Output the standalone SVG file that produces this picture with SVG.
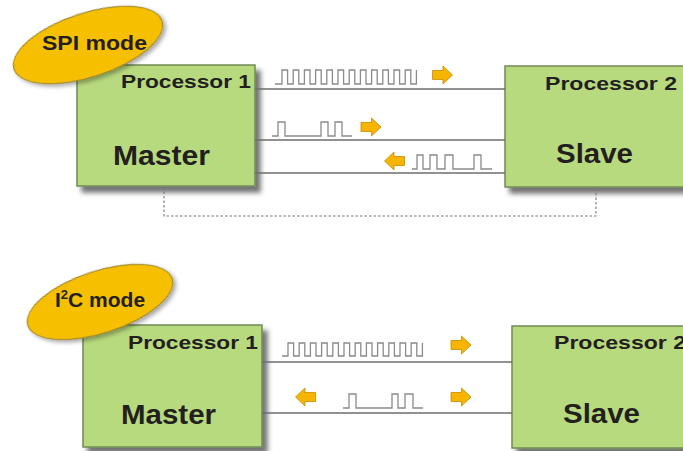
<svg xmlns="http://www.w3.org/2000/svg" width="683" height="451" viewBox="0 0 683 451">
<defs>
<filter id="sh" x="-10%" y="-10%" width="130%" height="135%">
<feDropShadow dx="5" dy="6" stdDeviation="2.5" flood-color="#000" flood-opacity="0.55"/>
</filter>
<filter id="sh2" x="-10%" y="-20%" width="130%" height="150%">
<feDropShadow dx="2" dy="3" stdDeviation="2" flood-color="#000" flood-opacity="0.35"/>
</filter>
<path id="arr" d="M-10,-4.5 H0.5 V-9 L10,0 L0.5,9 V4.5 H-10 Z"/>
</defs>
<style>
.box{fill:#b8da7e;stroke:#6f8a55;stroke-width:1.5;filter:url(#sh)}
.oval{fill:#f6bf00;stroke:#8c7a2a;stroke-width:1;filter:url(#sh2)}
.t{font-family:"Liberation Sans",Arial,Helvetica,sans-serif;font-weight:bold;fill:#231f20}
.p{font-size:19px}
.r{font-size:28px}
.m{font-size:21px}
.line{stroke:#6e6e6e;stroke-width:1.3;fill:none}
.wave{stroke:#8a8a8a;stroke-width:1.3;fill:none}
.dash{stroke:#777;stroke-width:1.1;fill:none;stroke-dasharray:2.5 2}
.a{fill:#f7b400;stroke:#c48c00;stroke-width:0.8}
</style>
<rect width="683" height="451" fill="#fff"/>

<!-- SPI section -->
<g id="spi-master">
<rect class="box" x="77" y="65" width="178" height="121"/>
<text class="t p" x="121" y="88" textLength="130" lengthAdjust="spacingAndGlyphs">Processor 1</text>
<text class="t r" x="113" y="165" textLength="97" lengthAdjust="spacingAndGlyphs">Master</text>
</g>
<g id="spi-slave">
<rect class="box" x="505" y="66" width="185" height="121"/>
<text class="t p" x="545" y="90" textLength="132" lengthAdjust="spacingAndGlyphs">Processor 2</text>
<text class="t r" x="556" y="163" textLength="77" lengthAdjust="spacingAndGlyphs">Slave</text>
</g>
<g id="spi-label">
<ellipse class="oval" cx="88" cy="45" rx="78" ry="32" transform="rotate(-18 88 45)"/>
<text class="t m" x="42" y="50" textLength="105" lengthAdjust="spacingAndGlyphs">SPI mode</text>
</g>

<!-- I2C section -->
<g id="i2c-master">
<rect class="box" x="83" y="325" width="179" height="122"/>
<text class="t p" x="128" y="349" textLength="130" lengthAdjust="spacingAndGlyphs">Processor 1</text>
<text class="t r" x="121" y="424" textLength="95" lengthAdjust="spacingAndGlyphs">Master</text>
</g>
<g id="i2c-slave">
<rect class="box" x="512" y="326" width="185" height="122"/>
<text class="t p" x="554" y="349" textLength="132" lengthAdjust="spacingAndGlyphs">Processor 2</text>
<text class="t r" x="563" y="423" textLength="77" lengthAdjust="spacingAndGlyphs">Slave</text>
</g>
<g id="i2c-label">
<ellipse class="oval" cx="100" cy="302" rx="76" ry="31" transform="rotate(-18 100 302)"/>
<text class="t m" x="55" y="307">I<tspan font-size="13" dy="-8">2</tspan><tspan dy="8">C mode</tspan></text>
</g>

<g id="connectors">
<path class="line" d="M255,89 H505 M255,140 H505 M255,173 H505"/>
<path class="dash" d="M164,187 V216 H596 V188"/>
<path class="line" d="M262,362 H512 M262,413 H512"/>

<path class="wave" d="M275,84 H282 v-14 h5.6 v14 h5.6 v-14 h5.6 v14 h5.6 v-14 h5.6 v14 h5.6 v-14 h5.6 v14 h5.6 v-14 h5.6 v14 h5.6 v-14 h5.6 v14 h5.6 v-14 h5.6 v14 h5.6 v-14 h5.6 v14 h5.6 v-14 h5.6 v14 h5.6 v-14 h5.6 v14 h5.6 v-14 h5.6 v14 h5.6 v-14 h5.6 v14 h5.6 v-14"/>
<path class="wave" d="M272,136 H278 V122 H285 V136 H321 V122 H328 V136 H335 V122 H342 V136 H352"/>
<path class="wave" d="M412,169 H417 V155 H423 V169 H430 V155 H437 V169 H445 V155 H453 V169 H474 V155 H481 V169 H492"/>

<path class="wave" d="M282,356 H288 v-13 h5.6 v13 h5.6 v-13 h5.6 v13 h5.6 v-13 h5.6 v13 h5.6 v-13 h5.6 v13 h5.6 v-13 h5.6 v13 h5.6 v-13 h5.6 v13 h5.6 v-13 h5.6 v13 h5.6 v-13 h5.6 v13 h5.6 v-13 h5.6 v13 h5.6 v-13 h5.6 v13 h5.6 v-13 h5.6 v13 h5.6 v-13 h5.6 v13 h5.6 v-13"/>
<path class="wave" d="M343,408 H349 V394 H356 V408 H392 V394 H398 V408 H405 V394 H413 V408 H423"/>

<use href="#arr" class="a" x="442.5" y="75"/>
<use href="#arr" class="a" x="371" y="127"/>
<use href="#arr" class="a" transform="translate(394.5 161) scale(-1 1)"/>
<use href="#arr" class="a" x="461" y="345"/>
<use href="#arr" class="a" transform="translate(305.5 397) scale(-1 1)"/>
<use href="#arr" class="a" x="461" y="397"/>
</g>
</svg>
